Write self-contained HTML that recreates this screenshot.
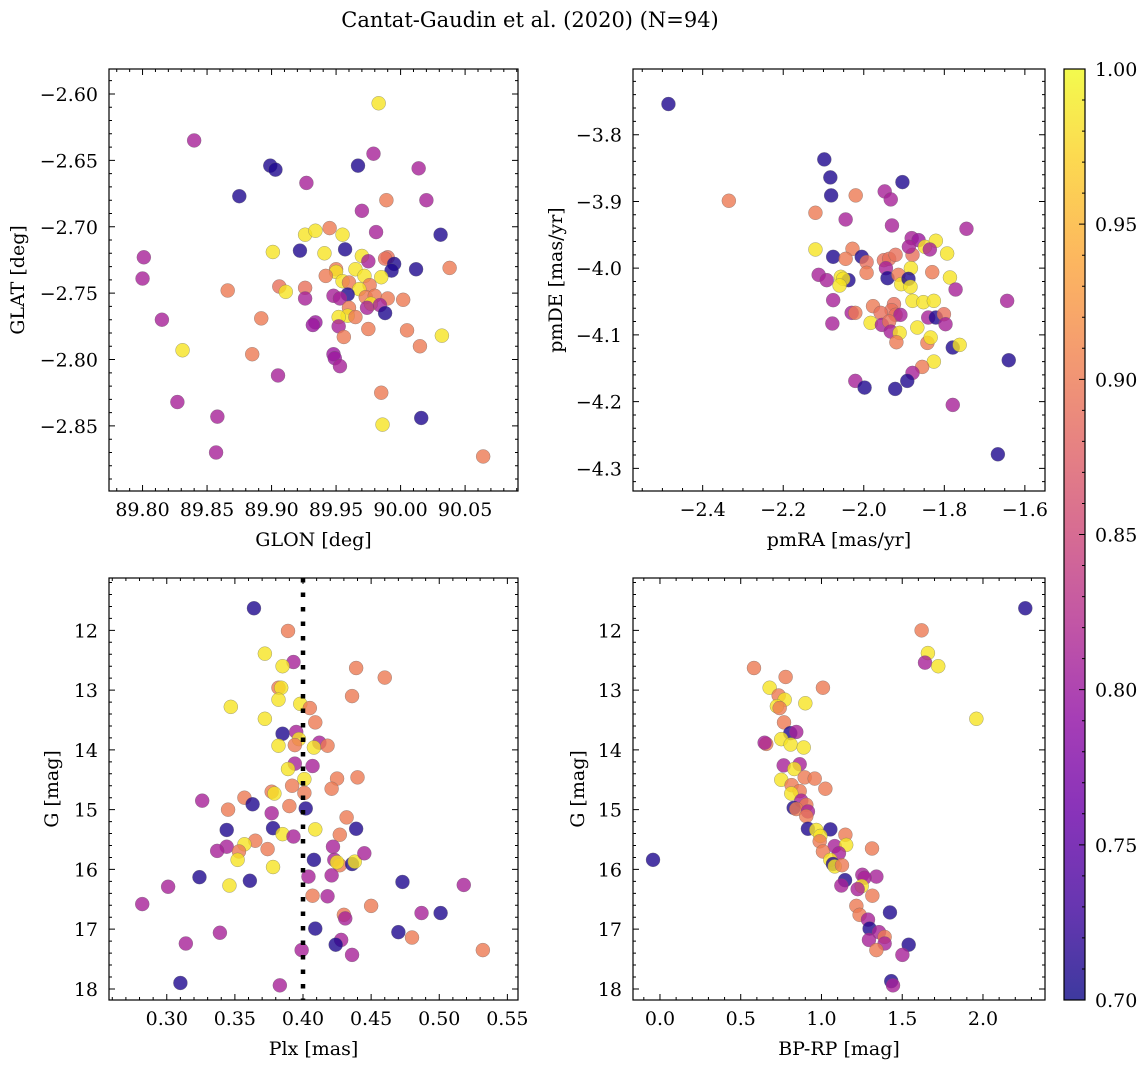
<!DOCTYPE html>
<html><head><meta charset="utf-8"><style>
html,body{margin:0;padding:0;background:#fff;}
svg{display:block;font-family:"DejaVu Serif","Liberation Serif",serif;}
</style></head><body>
<svg id="fig" width="1148" height="1068" viewBox="0 0 1148 1068" xmlns="http://www.w3.org/2000/svg">
<text x="530" y="27" text-anchor="middle" font-size="21">Cantat-Gaudin et al. (2020) (N=94)</text>
</svg>
<script>
// ---------- Panel 1 data: GLON / GLAT ----------
const glon = [89.983,89.840,89.979,89.899,89.903,89.967,90.014,89.927,89.875,89.989,90.020,89.970,89.945,89.981,89.926,89.934,89.955,90.031,89.901,89.922,89.941,89.957,89.970,89.975,89.990,89.988,89.995,89.993,90.012,90.038,89.801,89.800,89.950,89.950,89.965,89.972,89.985,89.942,89.955,89.960,89.976,89.968,89.959,89.866,89.906,89.911,89.926,89.926,89.948,89.953,89.973,89.980,89.990,90.002,89.977,89.984,89.974,89.960,89.988,89.959,89.952,89.965,89.892,89.815,89.934,89.932,89.952,89.975,90.005,89.956,90.032,90.015,89.831,89.885,89.948,89.949,89.953,89.905,89.985,89.827,89.858,90.016,89.986,89.857,90.064];
const glat = [-2.607,-2.635,-2.645,-2.654,-2.657,-2.654,-2.656,-2.667,-2.677,-2.680,-2.680,-2.688,-2.701,-2.704,-2.706,-2.703,-2.706,-2.706,-2.719,-2.718,-2.720,-2.717,-2.722,-2.726,-2.723,-2.724,-2.728,-2.733,-2.732,-2.731,-2.723,-2.739,-2.732,-2.734,-2.732,-2.737,-2.738,-2.737,-2.741,-2.742,-2.744,-2.747,-2.751,-2.748,-2.745,-2.749,-2.746,-2.754,-2.752,-2.754,-2.753,-2.752,-2.754,-2.755,-2.758,-2.759,-2.761,-2.761,-2.765,-2.767,-2.768,-2.768,-2.769,-2.770,-2.772,-2.774,-2.775,-2.777,-2.778,-2.783,-2.782,-2.790,-2.793,-2.796,-2.796,-2.799,-2.805,-2.812,-2.825,-2.832,-2.843,-2.844,-2.849,-2.870,-2.873];
const prob1 = [0.985,0.81,0.81,0.71,0.71,0.71,0.81,0.81,0.71,0.90,0.81,0.81,0.90,0.81,0.985,0.985,0.985,0.71,0.985,0.71,0.985,0.71,0.985,0.81,0.89,0.89,0.71,0.71,0.71,0.90,0.81,0.81,0.90,0.985,0.985,0.985,0.985,0.90,0.985,0.90,0.90,0.985,0.71,0.90,0.89,0.985,0.89,0.81,0.81,0.81,0.90,0.90,0.90,0.90,0.985,0.81,0.81,0.90,0.71,0.985,0.985,0.90,0.90,0.81,0.80,0.80,0.81,0.90,0.90,0.90,0.985,0.90,0.985,0.90,0.80,0.80,0.81,0.81,0.90,0.81,0.81,0.71,0.985,0.81,0.90];

// ---------- Panel 2 data: pmRA / pmDE ----------
const pmra = [-2.485,-2.335,-2.098,-2.083,-2.081,-1.904,-2.020,-1.948,-1.933,-2.120,-2.045,-1.930,-1.745,-1.881,-1.864,-1.848,-1.821,-1.836,-1.793,-2.120,-2.076,-2.028,-2.045,-2.005,-1.993,-1.950,-1.937,-1.921,-1.879,-1.888,-1.945,-1.993,-1.830,-1.883,-2.112,-2.092,-2.057,-2.038,-2.051,-2.060,-1.941,-1.914,-1.907,-1.889,-1.884,-1.786,-1.772,-2.076,-1.879,-1.852,-1.826,-1.644,-1.977,-1.925,-1.931,-1.921,-1.909,-1.958,-2.030,-2.021,-2.078,-1.983,-1.955,-1.937,-1.933,-1.911,-1.840,-1.821,-1.801,-1.797,-1.867,-1.919,-1.842,-1.834,-1.779,-1.762,-1.640,-1.826,-1.855,-1.879,-1.892,-2.021,-1.998,-1.922,-1.779,-1.667];
const pmde = [-3.754,-3.899,-3.837,-3.864,-3.891,-3.871,-3.891,-3.885,-3.897,-3.917,-3.927,-3.936,-3.941,-3.955,-3.958,-3.968,-3.959,-3.972,-3.978,-3.972,-3.983,-3.971,-3.986,-3.983,-3.991,-3.988,-3.986,-3.980,-3.980,-3.968,-4.000,-4.007,-4.006,-4.000,-4.010,-4.018,-4.013,-4.018,-4.016,-4.026,-4.015,-4.010,-4.024,-4.016,-4.028,-4.014,-4.032,-4.048,-4.049,-4.051,-4.049,-4.049,-4.057,-4.054,-4.063,-4.070,-4.070,-4.067,-4.067,-4.067,-4.083,-4.082,-4.085,-4.080,-4.095,-4.097,-4.074,-4.074,-4.069,-4.084,-4.089,-4.111,-4.112,-4.104,-4.119,-4.115,-4.138,-4.140,-4.148,-4.157,-4.169,-4.169,-4.179,-4.181,-4.205,-4.279];
const prob2 = [0.71,0.90,0.71,0.71,0.71,0.71,0.90,0.81,0.81,0.90,0.81,0.81,0.81,0.81,0.80,0.985,0.985,0.81,0.985,0.985,0.71,0.90,0.90,0.71,0.89,0.89,0.89,0.89,0.89,0.81,0.81,0.90,0.90,0.985,0.81,0.81,0.985,0.71,0.985,0.985,0.71,0.90,0.985,0.71,0.985,0.985,0.81,0.81,0.985,0.985,0.985,0.81,0.90,0.89,0.89,0.89,0.81,0.89,0.81,0.90,0.81,0.985,0.81,0.89,0.81,0.985,0.81,0.71,0.89,0.81,0.985,0.90,0.90,0.985,0.71,0.985,0.71,0.985,0.90,0.81,0.71,0.81,0.71,0.71,0.81,0.71];

// ---------- Panel 3 data: Plx / G ----------
const plx = [0.364,0.389,0.372,0.393,0.385,0.439,0.460,0.382,0.384,0.436,0.347,0.382,0.398,0.405,0.372,0.409,0.385,0.395,0.397,0.394,0.382,0.412,0.408,0.418,0.394,0.389,0.407,0.401,0.425,0.440,0.392,0.401,0.421,0.377,0.379,0.326,0.357,0.363,0.390,0.402,0.345,0.377,0.432,0.344,0.378,0.409,0.439,0.385,0.393,0.427,0.365,0.357,0.344,0.337,0.353,0.374,0.352,0.422,0.408,0.423,0.427,0.425,0.436,0.438,0.445,0.378,0.324,0.361,0.301,0.346,0.404,0.421,0.473,0.518,0.282,0.407,0.418,0.450,0.487,0.501,0.430,0.431,0.409,0.470,0.480,0.339,0.314,0.428,0.424,0.532,0.399,0.436,0.310,0.383];
const gmag3 = [11.63,12.01,12.39,12.53,12.60,12.63,12.79,12.96,12.96,13.10,13.28,13.16,13.23,13.30,13.48,13.54,13.73,13.70,13.82,13.92,13.93,13.88,13.96,13.93,14.23,14.32,14.27,14.49,14.48,14.46,14.60,14.72,14.65,14.70,14.73,14.85,14.80,14.91,14.94,14.98,15.00,15.06,15.13,15.34,15.31,15.33,15.32,15.41,15.45,15.42,15.52,15.58,15.62,15.69,15.70,15.66,15.84,15.62,15.84,15.84,15.93,15.88,15.91,15.87,15.73,15.96,16.13,16.19,16.29,16.27,16.12,16.10,16.21,16.26,16.58,16.44,16.45,16.61,16.73,16.73,16.76,16.82,16.99,17.05,17.14,17.06,17.24,17.18,17.26,17.35,17.35,17.43,17.90,17.94];
const prob3 = [0.71,0.90,0.985,0.81,0.985,0.90,0.90,0.90,0.985,0.90,0.985,0.985,0.985,0.90,0.985,0.90,0.71,0.81,0.985,0.90,0.985,0.81,0.985,0.90,0.81,0.985,0.81,0.985,0.90,0.90,0.90,0.90,0.90,0.90,0.985,0.81,0.90,0.71,0.90,0.71,0.90,0.81,0.90,0.71,0.71,0.985,0.71,0.985,0.81,0.90,0.90,0.985,0.81,0.81,0.90,0.90,0.985,0.81,0.71,0.81,0.90,0.985,0.71,0.985,0.81,0.985,0.71,0.71,0.81,0.985,0.81,0.81,0.71,0.81,0.81,0.90,0.81,0.90,0.81,0.71,0.90,0.81,0.71,0.71,0.90,0.81,0.81,0.81,0.71,0.90,0.81,0.81,0.71,0.81];

// ---------- Panel 4 data: BP-RP / G ----------
const bprp = [2.262,1.620,1.659,1.641,1.723,0.582,0.778,1.009,0.679,0.735,0.772,0.724,0.900,0.741,1.959,0.768,0.807,0.844,0.751,0.658,0.648,0.809,0.890,0.766,0.865,0.832,0.751,0.896,0.958,1.024,0.815,0.865,0.813,0.875,0.906,0.828,0.844,0.916,0.906,1.055,0.916,0.968,0.993,1.148,0.989,1.082,1.153,1.313,1.009,1.108,1.055,1.071,1.082,1.127,1.253,1.340,1.146,1.123,1.267,1.249,1.224,1.315,1.216,1.424,1.236,1.288,1.298,1.356,1.391,1.294,1.540,1.391,1.340,1.501,1.432,1.443,-0.043];
const gmag4 = [11.63,12.00,12.38,12.54,12.60,12.63,12.78,12.96,12.96,13.09,13.16,13.27,13.22,13.30,13.48,13.54,13.72,13.70,13.82,13.90,13.88,13.91,13.96,14.26,14.24,14.32,14.50,14.46,14.48,14.65,14.59,14.69,14.73,14.85,14.92,14.97,14.99,15.03,15.11,15.33,15.32,15.34,15.44,15.42,15.53,15.61,15.59,15.65,15.70,15.73,15.84,15.91,15.95,15.93,16.09,16.12,16.18,16.27,16.14,16.28,16.33,16.44,16.61,16.72,16.76,16.84,16.99,17.05,17.13,17.18,17.26,17.24,17.35,17.43,17.87,17.94,15.84];
const prob4 = [0.71,0.90,0.985,0.81,0.985,0.90,0.90,0.90,0.985,0.90,0.985,0.985,0.985,0.90,0.985,0.90,0.71,0.81,0.985,0.90,0.81,0.985,0.985,0.81,0.81,0.985,0.985,0.90,0.90,0.90,0.90,0.90,0.985,0.81,0.90,0.71,0.90,0.81,0.90,0.71,0.71,0.985,0.985,0.90,0.90,0.81,0.985,0.90,0.90,0.81,0.985,0.71,0.985,0.90,0.81,0.81,0.71,0.81,0.81,0.985,0.81,0.90,0.90,0.71,0.90,0.81,0.71,0.81,0.90,0.81,0.71,0.81,0.90,0.81,0.71,0.81,0.71];

// ---------- Tick label arrays ----------
const p1xTicks = [89.80,89.85,89.90,89.95,90.00,90.05];
const p1yTicks = [-2.60,-2.65,-2.70,-2.75,-2.80,-2.85];
const p2xTicks = [-2.4,-2.2,-2.0,-1.8,-1.6];
const p2yTicks = [-3.8,-3.9,-4.0,-4.1,-4.2,-4.3];
const p3xTicks = [0.30,0.35,0.40,0.45,0.50,0.55];
const gTicks = [12,13,14,15,16,17,18];
const p4xTicks = [0.0,0.5,1.0,1.5,2.0];
const cbTicks = [0.70,0.75,0.80,0.85,0.90,0.95,1.00];
const plxCut = 0.40;

const NS = "http://www.w3.org/2000/svg";
const svg = document.getElementById('fig');
const stops = ["#0d0887","#41049d","#6a00a8","#8f0da4","#b12a90","#cc4778","#e16462","#f2844b","#fca636","#fcce25","#f0f921"];
function hex(h){return [parseInt(h.slice(1,3),16),parseInt(h.slice(3,5),16),parseInt(h.slice(5,7),16)];}
function plasma(t){t=Math.max(0,Math.min(1,t));const f=t*10,i=Math.min(9,Math.floor(f)),r=f-i;const a=hex(stops[i]),b=hex(stops[i+1]);
  return 'rgb('+a.map((v,k)=>Math.round(v+(b[k]-v)*r)).join(',')+')';}
const VMIN=0.70,VMAX=1.00;
const FS=19;
function mk(tag,attrs,parent){const e=document.createElementNS(NS,tag);for(const k in attrs)e.setAttribute(k,attrs[k]);(parent||svg).appendChild(e);return e;}
function fmt(v,d){return (v<0?'\u2212':'')+Math.abs(v).toFixed(d);}

function panel(o){
  const g=mk('g',{});
  
  
  const sx=v=>o.x0+(v-o.xd[0])/(o.xd[1]-o.xd[0])*(o.x1-o.x0);
  const sy=v=>o.y0+(v-o.yd[0])/(o.yd[1]-o.yd[0])*(o.y1-o.y0);
  for(let i=0;i<o.xs.length;i++){
    const c=mk('circle',{cx:sx(o.xs[i]),cy:sy(o.ys[i]),r:7,fill:plasma((o.ps[i]-VMIN)/(VMAX-VMIN)),'fill-opacity':0.8,stroke:'#666','stroke-width':0.5,'stroke-opacity':0.6},g);
    
    
  }
  if(o.vline!==undefined){
    const l=mk('line',{x1:sx(o.vline),x2:sx(o.vline),y1:o.y0,y2:o.y1,stroke:'#000','stroke-width':4.5,'stroke-dasharray':'4.5 10'},g);
    
    
  }
  const fr=mk('rect',{x:o.x0,y:o.y0,width:o.x1-o.x0,height:o.y1-o.y0,fill:'none',stroke:'#000','stroke-width':1.2},g);
  
  
  const xlo=Math.min(...o.xd),xhi=Math.max(...o.xd),ylo=Math.min(...o.yd),yhi=Math.max(...o.yd);
  let p='';
  for(let v=Math.ceil(xlo/o.xm-1e-6)*o.xm;v<=xhi;v+=o.xm){const x=sx(v);p+=`M${x},${o.y1}v-3M${x},${o.y0}v3`;}
  for(let v=Math.ceil(ylo/o.ym-1e-6)*o.ym;v<=yhi;v+=o.ym){const y=sy(v);p+=`M${o.x0},${y}h3M${o.x1},${y}h-3`;}
  o.xt.forEach(v=>{const x=sx(v);p+=`M${x},${o.y1}v-6M${x},${o.y0}v6`;});
  o.yt.forEach(v=>{const y=sy(v);p+=`M${o.x0},${y}h6M${o.x1},${y}h-6`;});
  const tk=mk('path',{d:p,stroke:'#000','stroke-width':1,fill:'none'},g);
  
  
  o.xt.forEach(v=>{const t=mk('text',{x:sx(v),y:o.y1+25,'text-anchor':'middle','font-size':FS},g);t.textContent=fmt(v,o.xdp);
    
    });
  o.yt.forEach(v=>{const t=mk('text',{x:o.x0-11,y:sy(v)+7,'text-anchor':'end','font-size':FS},g);t.textContent=fmt(v,o.ydp);
    
    });
  const xl=mk('text',{x:(o.x0+o.x1)/2,y:o.y1+55,'text-anchor':'middle','font-size':FS},g);xl.textContent=o.xlab;
  
  
  const yl=mk('text',{x:o.ylx,y:(o.y0+o.y1)/2,'text-anchor':'middle','font-size':FS,transform:`rotate(-90 ${o.ylx} ${(o.y0+o.y1)/2})`},g);yl.textContent=o.ylab;
  
  
}

panel({name:'glon-glat-panel',x0:109,x1:518,y0:69,y1:491,xd:[89.774,90.091],yd:[-2.5812,-2.899],xs:glon,ys:glat,ps:prob1,xt:p1xTicks,yt:p1yTicks,xm:0.01,ym:0.01,xdp:2,ydp:2,xlab:'GLON [deg]',ylab:'GLAT [deg]',ylx:24});
panel({name:'proper-motion-panel',x0:633,x1:1045,y0:69,y1:491,xd:[-2.573,-1.550],yd:[-3.7015,-4.334],xs:pmra,ys:pmde,ps:prob2,xt:p2xTicks,yt:p2yTicks,xm:0.05,ym:0.02,xdp:1,ydp:1,xlab:'pmRA [mas/yr]',ylab:'pmDE [mas/yr]',ylx:562});
panel({name:'parallax-mag-panel',x0:109,x1:518,y0:578,y1:1000,xd:[0.2576,0.5578],yd:[11.124,18.185],xs:plx,ys:gmag3,ps:prob3,xt:p3xTicks,yt:gTicks,xm:0.01,ym:0.2,xdp:2,ydp:0,xlab:'Plx [mas]',ylab:'G [mag]',ylx:58,vline:plxCut});
panel({name:'color-mag-panel',x0:633,x1:1045,y0:578,y1:1000,xd:[-0.167,2.384],yd:[11.124,18.185],xs:bprp,ys:gmag4,ps:prob4,xt:p4xTicks,yt:gTicks,xm:0.1,ym:0.2,xdp:1,ydp:0,xlab:'BP-RP [mag]',ylab:'G [mag]',ylx:584});

// ---------- Colorbar ----------
(function(){
  const cb=mk('g',{});
  
  
  const defs=mk('defs',{},cb);
  const lg=mk('linearGradient',{id:'cbg',x1:0,y1:1,x2:0,y2:0},defs);
  stops.forEach((s,i)=>mk('stop',{offset:i/10,'stop-color':s,'stop-opacity':0.8},lg));
  const X0=1064,X1=1085,Y0=69,Y1=1000;
  mk('rect',{x:X0,y:Y0,width:X1-X0,height:Y1-Y0,fill:'url(#cbg)',stroke:'#000','stroke-width':1.2},cb);
  const sy=v=>Y1-(v-VMIN)/(VMAX-VMIN)*(Y1-Y0);
  let p='';
  for(let k=70;k<=100;k++){const y=sy(k/100);p+=`M${X1},${y}h${k%5===0?-6:-3}`;}
  mk('path',{d:p,stroke:'#000','stroke-width':1},cb);
  cbTicks.forEach(v=>{const t=mk('text',{x:X1+10,y:sy(v)+7,'font-size':FS},cb);t.textContent=v.toFixed(2);
    
    });
})();
</script>
</body></html>
